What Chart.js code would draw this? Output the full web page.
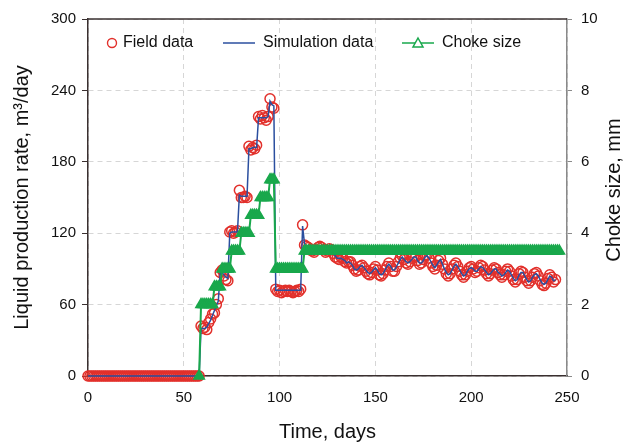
<!DOCTYPE html>
<html>
<head>
<meta charset="utf-8">
<title>Liquid production rate and choke size</title>
<script src="https://cdn.jsdelivr.net/npm/chart.js@4.4.0/dist/chart.umd.min.js"></script>
<style>
  body { margin: 0; background: #fff; }
  #wrap { width: 625px; height: 444px; }
</style>
</head>
<body>
<div id="wrap"><canvas id="chart" width="625" height="444"></canvas></div>
<script>
// daily values, index = day number from fieldStartDay / chokeStartDay
const fieldStartDay = 0;
const fieldRate = [
  0, 0, 0, 0, 0, 0, 0, 0, 0, 0,
  0, 0, 0, 0, 0, 0, 0, 0, 0, 0,
  0, 0, 0, 0, 0, 0, 0, 0, 0, 0,
  0, 0, 0, 0, 0, 0, 0, 0, 0, 0,
  0, 0, 0, 0, 0, 0, 0, 0, 0, 0,
  0, 0, 0, 0, 0, 0, 0, 0, 0,
  42, 40, 41, 39, 45, 48, 52, 53, 60, 65,
  87, 89, 84, 81, 80, 121, 122, 120, 121, 122,
  156, 150, 150, 151, 150, 193, 190, 192, 191, 194,
  218, 216, 219, 217, 215, 218, 233, 226, 225, 73,
  71, 72, 70, 71, 72, 71, 72, 71, 70, 71,
  72, 71, 73, 127, 110, 109,
  108, 106, 105, 104, 106, 108, 109, 108, 106, 104,
  105, 107, 106, 103, 100, 99, 98, 100, 99, 96,
  95, 96, 96, 93, 90, 88, 89, 92, 93, 91,
  88, 86, 85, 87, 90, 92, 89, 85, 84, 86,
  89, 92, 95, 92, 88, 88, 92, 96, 99, 101,
  98, 95, 94, 96, 99, 101, 100, 97, 94, 95,
  98, 101, 102, 99, 95, 92, 90, 93, 97, 99,
  94, 90, 86, 84, 86, 90, 93, 95, 92, 88,
  85, 83, 85, 88, 91, 92, 90, 87, 88, 91,
  93, 92, 89, 86, 84, 86, 89, 91, 90, 87,
  85, 83, 85, 88, 90, 88, 84, 81, 79, 81,
  86, 88, 87, 83, 80, 78, 80, 83, 86, 87,
  84, 80, 77, 76, 78, 82, 85, 83, 79, 81
];

const simRate = [
  0, 0, 0, 0, 0, 0, 0, 0, 0, 0,
  0, 0, 0, 0, 0, 0, 0, 0, 0, 0,
  0, 0, 0, 0, 0, 0, 0, 0, 0, 0,
  0, 0, 0, 0, 0, 0, 0, 0, 0, 0,
  0, 0, 0, 0, 0, 0, 0, 0, 0, 0,
  0, 0, 0, 0, 0, 0, 0, 0, 0,
  40, 40, 40, 41, 44, 47, 51, 55, 59, 63,
  86, 87, 85, 83, 82, 120, 121, 121, 121, 121,
  152, 151, 151, 151, 151, 191, 191, 192, 192, 192,
  217, 217, 217, 217, 217, 218, 231, 228, 227, 72,
  72, 72, 72, 72, 72, 72, 72, 72, 72, 72,
  72, 72, 72, 126, 111, 109,
  108, 106, 106, 105, 106, 107, 108, 107, 106, 105,
  105, 106, 105, 103, 101, 99, 99, 99, 98, 97,
  95, 96, 95, 93, 90, 89, 90, 92, 93, 91,
  89, 87, 86, 87, 89, 91, 89, 86, 85, 86,
  89, 92, 94, 92, 89, 89, 92, 95, 98, 100,
  98, 96, 95, 96, 98, 100, 100, 97, 95, 95,
  97, 100, 101, 99, 96, 93, 91, 93, 96, 98,
  94, 90, 87, 85, 86, 89, 92, 94, 92, 89,
  86, 84, 85, 88, 90, 91, 90, 88, 88, 90,
  92, 91, 89, 87, 85, 86, 88, 90, 90, 87,
  86, 84, 85, 87, 89, 88, 85, 82, 80, 81,
  85, 87, 87, 84, 81, 79, 80, 83, 85, 86,
  84, 81, 78, 77, 78, 81, 84, 83, 80, 81
];

const chokeStartDay = 58;
const chokeSize = [
  0,
  2, 2, 2, 2, 2, 2, 2,
  2.5, 2.5, 2.5, 2.5,
  3, 3, 3, 3, 3,
  3.5, 3.5, 3.5, 3.5, 3.5,
  4, 4, 4, 4, 4,
  4.5, 4.5, 4.5, 4.5, 4.5,
  5, 5, 5, 5, 5,
  5.5, 5.5, 5.5,
  3, 3, 3, 3, 3, 3, 3, 3, 3, 3, 3, 3, 3, 3, 3,
  3.5, 3.5, 3.5, 3.5, 3.5, 3.5, 3.5, 3.5, 3.5, 3.5,
  3.5, 3.5, 3.5, 3.5, 3.5, 3.5, 3.5, 3.5, 3.5, 3.5,
  3.5, 3.5, 3.5, 3.5, 3.5, 3.5, 3.5, 3.5, 3.5, 3.5,
  3.5, 3.5, 3.5, 3.5, 3.5, 3.5, 3.5, 3.5, 3.5, 3.5,
  3.5, 3.5, 3.5, 3.5, 3.5, 3.5, 3.5, 3.5, 3.5, 3.5,
  3.5, 3.5, 3.5, 3.5, 3.5, 3.5, 3.5, 3.5, 3.5, 3.5,
  3.5, 3.5, 3.5, 3.5, 3.5, 3.5, 3.5, 3.5, 3.5, 3.5,
  3.5, 3.5, 3.5, 3.5, 3.5, 3.5, 3.5, 3.5, 3.5, 3.5,
  3.5, 3.5, 3.5, 3.5, 3.5, 3.5, 3.5, 3.5, 3.5, 3.5,
  3.5, 3.5, 3.5, 3.5, 3.5, 3.5, 3.5, 3.5, 3.5, 3.5,
  3.5, 3.5, 3.5, 3.5, 3.5, 3.5, 3.5, 3.5, 3.5, 3.5,
  3.5, 3.5, 3.5, 3.5, 3.5, 3.5, 3.5, 3.5, 3.5, 3.5,
  3.5, 3.5, 3.5, 3.5, 3.5, 3.5, 3.5, 3.5, 3.5, 3.5,
  3.5, 3.5, 3.5, 3.5
];

const seriesNames = ['Field data', 'Simulation data', 'Choke size'];
const timeTicks = { min: 0, max: 250, step: 50 };
const rateTicks = { min: 0, max: 300, step: 60 };
const chokeTicks = { min: 0, max: 10, step: 2 };

const RED = '#e2302b';
const BLUE = '#2b4f9f';
const GREEN = '#19a84c';
const GRID = '#d6d6d6';
const AXIS_DARK = '#3a3030';
const AXIS_GRAY = '#8a8a8a';
const TEXT = '#111111';

Chart.defaults.font.family = '"Liberation Sans", Arial, sans-serif';
Chart.defaults.color = TEXT;

const toPoints = (values, start) => values.map((v, i) => ({ x: start + i, y: v }));

// legend sits inside the plot, and the right title reads bottom-to-top
const overlay = {
  id: 'overlay',
  afterDraw(chart) {
    const { ctx, chartArea } = chart;
    ctx.save();

    ctx.strokeStyle = AXIS_DARK;
    ctx.lineWidth = 1.5;
    ctx.beginPath();
    ctx.moveTo(chartArea.left, chartArea.top);
    ctx.lineTo(chartArea.right, chartArea.top);
    ctx.stroke();

    const ly = 43;
    ctx.font = '16px "Liberation Sans", Arial, sans-serif';
    ctx.fillStyle = TEXT;
    ctx.textBaseline = 'middle';
    ctx.textAlign = 'left';

    ctx.strokeStyle = RED;
    ctx.lineWidth = 1.4;
    ctx.beginPath();
    ctx.arc(112, ly, 4.5, 0, Math.PI * 2);
    ctx.stroke();
    ctx.fillText(seriesNames[0], 123, ly);

    ctx.strokeStyle = BLUE;
    ctx.lineWidth = 1.5;
    ctx.beginPath();
    ctx.moveTo(223, ly);
    ctx.lineTo(255, ly);
    ctx.stroke();
    ctx.fillText(seriesNames[1], 263, ly);

    ctx.strokeStyle = GREEN;
    ctx.lineWidth = 1.5;
    ctx.beginPath();
    ctx.moveTo(402, ly);
    ctx.lineTo(434, ly);
    ctx.stroke();
    ctx.fillStyle = '#ffffff';
    ctx.beginPath();
    ctx.moveTo(418, ly - 5);
    ctx.lineTo(423, ly + 4);
    ctx.lineTo(413, ly + 4);
    ctx.closePath();
    ctx.fill();
    ctx.stroke();
    ctx.fillStyle = TEXT;
    ctx.fillText(seriesNames[2], 442, ly);

    ctx.font = '20px "Liberation Sans", Arial, sans-serif';
    ctx.textAlign = 'center';
    ctx.translate(614, 190);
    ctx.rotate(-Math.PI / 2);
    ctx.fillText('Choke size, mm', 0, 0);

    ctx.restore();
  }
};

new Chart(document.getElementById('chart'), {
  type: 'line',
  data: {
    datasets: [
      {
        label: seriesNames[0],
        data: toPoints(fieldRate, fieldStartDay),
        yAxisID: 'y',
        showLine: false,
        pointStyle: 'circle',
        pointRadius: 5,
        pointBorderWidth: 1.5,
        pointBorderColor: RED,
        pointBackgroundColor: 'rgba(0,0,0,0)',
        borderColor: RED,
        clip: false,
        order: 2
      },
      {
        label: seriesNames[1],
        data: toPoints(simRate, fieldStartDay),
        yAxisID: 'y',
        borderColor: BLUE,
        borderWidth: 1.5,
        pointRadius: 0,
        tension: 0,
        clip: false,
        order: 1
      },
      {
        label: seriesNames[2],
        data: toPoints(chokeSize, chokeStartDay),
        yAxisID: 'y2',
        borderColor: GREEN,
        borderWidth: 2,
        pointStyle: 'triangle',
        pointRadius: 6,
        pointBorderWidth: 1.5,
        pointBorderColor: GREEN,
        pointBackgroundColor: GREEN,
        tension: 0,
        clip: false,
        order: 0
      }
    ]
  },
  options: {
    responsive: false,
    animation: false,
    layout: { padding: { top: 19, left: 0, right: 0, bottom: 0 } },
    plugins: {
      legend: { display: false },
      tooltip: { enabled: false }
    },
    scales: {
      x: {
        type: 'linear',
        min: timeTicks.min,
        max: timeTicks.max,
        ticks: { stepSize: timeTicks.step, padding: 13, font: { size: 15 }, color: TEXT },
        grid: { color: GRID, drawTicks: false },
        border: { color: AXIS_DARK, width: 1.5, dash: [5, 4] },
        title: { display: true, text: 'Time, days', font: { size: 20 }, color: TEXT, padding: { top: 0, bottom: 0 } },
        afterFit(scale) { scale.height = 68; }
      },
      y: {
        position: 'left',
        min: rateTicks.min,
        max: rateTicks.max,
        ticks: { stepSize: rateTicks.step, padding: 6, font: { size: 15 }, color: TEXT },
        grid: { color: GRID, tickColor: AXIS_DARK, tickLength: 6, tickBorderDash: [] },
        border: { color: AXIS_DARK, width: 1.5, dash: [5, 4] },
        title: { display: true, text: 'Liquid production rate, m³/day', font: { size: 20 }, color: TEXT, padding: { top: 10, bottom: 0 } },
        afterFit(scale) { scale.width = 88; }
      },
      y2: {
        position: 'right',
        min: chokeTicks.min,
        max: chokeTicks.max,
        ticks: { stepSize: chokeTicks.step, padding: 9, font: { size: 15 }, color: TEXT },
        grid: { drawOnChartArea: false, tickColor: AXIS_GRAY, tickLength: 5 },
        border: { color: AXIS_GRAY, width: 1.5 },
        afterFit(scale) { scale.width = 58; }
      }
    }
  },
  plugins: [overlay]
});
</script>
</body>
</html>
